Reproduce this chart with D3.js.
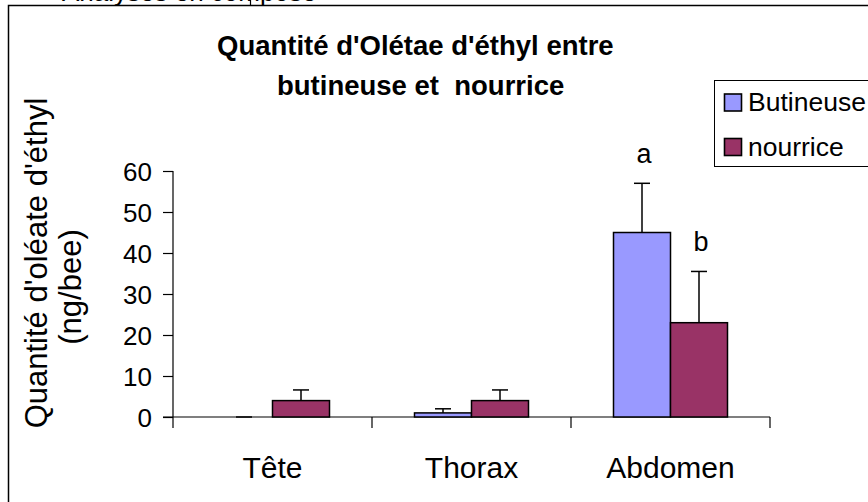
<!DOCTYPE html>
<html><head><meta charset="utf-8">
<script src="https://cdn.jsdelivr.net/npm/d3@7"></script>
<style>body{margin:0;background:#fff}svg{display:block;font-family:"Liberation Sans",Arial,sans-serif}</style>
</head><body>
<svg id="c" width="868" height="502"></svg>
<script>
const categories = ["Tête", "Thorax", "Abdomen"];
const seriesNames = ["Butineuse", "nourrice"];
const butineuse = [0, 1.0, 45];
const butineuseErr = [0, 1.0, 12];
const nourrice = [4.0, 4.0, 23];
const nourriceErr = [2.6, 2.6, 12.5];
const yTicks = [0, 10, 20, 30, 40, 50, 60];
const sigAbdomen = ["a", "b"];
const colors = ["#9999FF", "#993366"];

const svg = d3.select("#c");
// top clipped text (cut off in the reference too)
svg.append("text").attr("x", 62).attr("y", 1).attr("font-size", 26).text("Analyses en composé");
svg.append("line").attr("x1", 250.5).attr("x2", 250.5).attr("y1", 0).attr("y2", 6).attr("stroke", "#000").attr("stroke-width", 1.2);
// frame
svg.append("rect").attr("x", 8.5).attr("y", 5.5).attr("width", 900).attr("height", 600)
  .attr("fill", "#fff").attr("stroke", "#000").attr("stroke-width", 1.5);

const x0 = d3.scaleBand().domain(categories).range([173, 770]).paddingInner(85/199).paddingOuter(42.5/199);
const x1 = d3.scaleBand().domain(seriesNames).range([0, x0.bandwidth()]);
const y = d3.scaleLinear().domain([0, 60]).range([417, 171]);

// title
svg.append("text").attr("x", 217).attr("y", 55).attr("font-weight", "bold").attr("font-size", 27.5).text("Quantité d'Olétae d'éthyl entre");
svg.append("text").attr("x", 277).attr("y", 95).attr("font-weight", "bold").attr("font-size", 27.5).attr("xml:space", "preserve").text("butineuse et \u00a0nourrice");

// y axis
const yAxis = d3.axisLeft(y).tickValues(yTicks).tickSize(10).tickPadding(11);
const gy = svg.append("g").attr("transform", "translate(173,0)").call(yAxis);
gy.select(".domain").attr("d", "M0,171V428").attr("stroke-width", 1.2);
gy.selectAll(".tick line").attr("stroke-width", 1.2);
gy.selectAll("text").attr("font-size", 26).attr("font-family", "Liberation Sans, Arial").attr("dy", "0.36em");

// x axis
const gx = svg.append("g").attr("transform", "translate(0,417)");
gx.append("line").attr("x1", 163).attr("x2", 770).attr("y1", 0).attr("y2", 0).attr("stroke", "#000").attr("stroke-width", 1.2);
const bounds = d3.range(categories.length + 1).map(i => 173 + i * x0.step());
gx.selectAll(".xt").data(bounds.slice(1)).join("line")
  .attr("x1", d => d).attr("x2", d => d).attr("y1", 0).attr("y2", 11).attr("stroke", "#000").attr("stroke-width", 1.2);
gx.selectAll(".xl").data(categories).join("text")
  .attr("x", d => x0(d) + x0.bandwidth() / 2).attr("y", 61).attr("text-anchor", "middle").attr("font-size", 30).text(d => d);

// bars
const data = categories.map((c, i) => ({
  cat: c,
  vals: [
    { s: seriesNames[0], v: butineuse[i], e: butineuseErr[i], col: colors[0] },
    { s: seriesNames[1], v: nourrice[i], e: nourriceErr[i], col: colors[1] }
  ]
}));
const grp = svg.selectAll(".grp").data(data).join("g").attr("transform", d => `translate(${x0(d.cat)},0)`);
grp.selectAll("line.err").data(d => d.vals).join("line").attr("class", "err")
  .attr("x1", d => x1(d.s) + x1.bandwidth() / 2).attr("x2", d => x1(d.s) + x1.bandwidth() / 2)
  .attr("y1", d => y(d.v)).attr("y2", d => y(d.v + d.e)).attr("stroke", "#000").attr("stroke-width", 1.5);
grp.selectAll("line.cap").data(d => d.vals).join("line").attr("class", "cap")
  .attr("x1", d => x1(d.s) + x1.bandwidth() / 2 - 8).attr("x2", d => x1(d.s) + x1.bandwidth() / 2 + 8)
  .attr("y1", d => y(d.v + d.e)).attr("y2", d => y(d.v + d.e)).attr("stroke", "#000").attr("stroke-width", 1.5);
grp.selectAll("rect").data(d => d.vals.filter(v => v.v > 0)).join("rect")
  .attr("x", d => x1(d.s)).attr("width", x1.bandwidth())
  .attr("y", d => y(d.v)).attr("height", d => y(0) - y(d.v))
  .attr("fill", d => d.col).attr("stroke", "#000").attr("stroke-width", 1.5);

// significance letters on Abdomen
const abd = data[2];
svg.selectAll(".sig").data(abd.vals).join("text")
  .attr("x", (d, i) => x0(abd.cat) + x1(d.s) + x1.bandwidth() / 2 + 2)
  .attr("y", (d, i) => y(d.v + d.e) - 20)
  .attr("text-anchor", "middle").attr("font-size", 27).text((d, i) => sigAbdomen[i]);

// y axis title
const yt = svg.append("g").attr("transform", "rotate(-90)");
yt.append("text").attr("x", -263).attr("y", 47).attr("text-anchor", "middle").attr("font-size", 31).text("Quantité d'oléate d'éthyl");
yt.append("text").attr("x", -287).attr("y", 81).attr("text-anchor", "middle").attr("font-size", 31).text("(ng/bee)");

// legend
const lg = svg.append("g");
lg.append("rect").attr("x", 714.5).attr("y", 80.5).attr("width", 200).attr("height", 86)
  .attr("fill", "#fff").attr("stroke", "#000").attr("stroke-width", 1);
const li = lg.selectAll(".li").data(seriesNames).join("g").attr("transform", (d, i) => `translate(724,${102.5 + i * 44.5})`);
li.append("rect").attr("x", 0.5).attr("y", -8.5).attr("width", 17).attr("height", 17)
  .attr("fill", (d, i) => colors[i]).attr("stroke", "#000").attr("stroke-width", 1.6);
li.append("text").attr("x", 24).attr("y", 8.5).attr("font-size", 26.5).text(d => d);
</script>
</body></html>
